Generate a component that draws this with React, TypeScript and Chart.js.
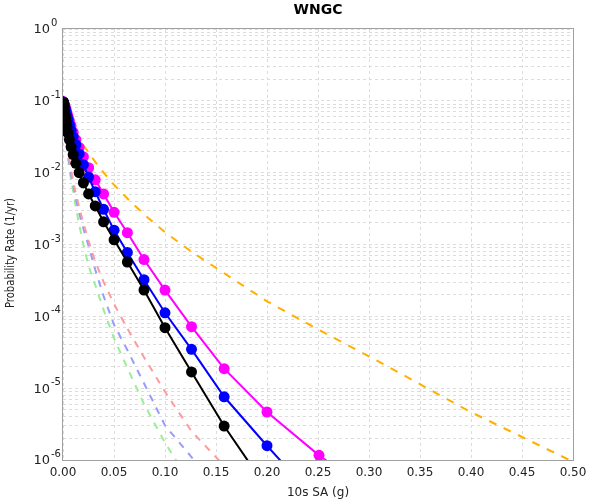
import React, { useEffect, useRef } from 'react';
import { Chart, registerables } from 'chart.js';
Chart.register(...registerables);

const chartTitle = 'WNGC';
const xTitle = '10s SA (g)';
const yTitle = 'Probability Rate (1/yr)';

const xValues = [
  0.0001, 0.000126, 0.000158, 0.0002, 0.000251, 0.000316, 0.000398, 0.000501, 0.000631, 0.000794,
  0.001, 0.00126, 0.00158, 0.002, 0.00251, 0.00316, 0.00398, 0.00501, 0.00631, 0.00794,
  0.01, 0.0126, 0.0158, 0.02, 0.0251, 0.0316, 0.0398, 0.0501, 0.0631, 0.0794,
  0.1, 0.126, 0.158, 0.2, 0.251, 0.316, 0.398, 0.501,
];

const blackCurve = [
  0.0955, 0.0951, 0.0946, 0.094, 0.0931, 0.092, 0.0908, 0.0891, 0.0871, 0.0841,
  0.0804, 0.0759, 0.0708, 0.0646, 0.0575, 0.0501, 0.0427, 0.0355, 0.0288, 0.0229,
  0.0178, 0.0135, 0.01, 0.00724, 0.00505, 0.00344, 0.00207, 0.00116, 0.000569, 0.000232,
  0.0000695, 0.0000168, 0.00000297, 4.0e-7,
];

const blueCurve = [
  0.0966, 0.0962, 0.0957, 0.0953, 0.0946, 0.094, 0.0931, 0.092, 0.0908, 0.0897,
  0.0887, 0.0861, 0.0832, 0.0794, 0.0741, 0.0684, 0.0617, 0.055, 0.0468, 0.0389,
  0.0316, 0.0245, 0.0182, 0.0129, 0.00861, 0.00543, 0.00309, 0.00158, 0.000776, 0.000324,
  0.000112, 0.0000347, 0.00000759, 0.00000158, 2.5e-7,
];

const magentaCurve = [
  0.0973, 0.0971, 0.0968, 0.0964, 0.0959, 0.0955, 0.0948, 0.094, 0.0929, 0.0916,
  0.0902, 0.0885, 0.0861, 0.0832, 0.0794, 0.0741, 0.0676, 0.0603, 0.0525, 0.0447,
  0.0363, 0.0288, 0.0224, 0.0166, 0.01175, 0.00794, 0.00505, 0.00281, 0.00146, 0.000617,
  0.000232, 0.0000718, 0.0000187, 0.00000466, 0.00000116, 2.5e-7,
];

const orangeCurve = [
  0.0977, 0.0973, 0.0968, 0.0962, 0.0955, 0.0946, 0.0933, 0.0918, 0.0902, 0.0881,
  0.0861, 0.0832, 0.0804, 0.0767, 0.0724, 0.0676, 0.0617, 0.0562, 0.0501, 0.0447,
  0.0398, 0.0347, 0.0295, 0.024, 0.0191, 0.0141, 0.01, 0.00676, 0.00437, 0.00263,
  0.00148, 0.000794, 0.000398, 0.000162, 0.0000646, 0.0000209, 0.00000479, 9.3e-7,
];

const salmonCurve = [
  0.0955, 0.0948, 0.094, 0.0929, 0.0914, 0.0895, 0.0871, 0.0838, 0.0798, 0.0753,
  0.07, 0.0638, 0.0569, 0.049, 0.0407, 0.0331, 0.0263, 0.02, 0.0148, 0.0107,
  0.00759, 0.00513, 0.00331, 0.002, 0.00112, 0.000575, 0.000302, 0.000148, 0.0000676, 0.0000269,
  0.00000891, 0.00000251, 8.3e-7,
];

const lightBlueCurve = [
  0.0955, 0.0946, 0.0935, 0.0923, 0.0906, 0.0885, 0.0859, 0.0822, 0.078, 0.0733,
  0.0676, 0.061, 0.0537, 0.0457, 0.038, 0.0309, 0.024, 0.0178, 0.0129, 0.00933,
  0.00661, 0.00437, 0.00275, 0.00166, 0.000955, 0.000447, 0.000191, 0.0000759, 0.0000339, 0.0000117,
  0.00000302, 0.0000011, 3.2e-7,
];

const greenCurve = [
  0.0955, 0.0944, 0.0933, 0.0918, 0.0902, 0.0881, 0.0851, 0.0813, 0.0767, 0.0716,
  0.0661, 0.0589, 0.0513, 0.0437, 0.0363, 0.0288, 0.0219, 0.0158, 0.0112, 0.00794,
  0.0055, 0.00331, 0.00191, 0.001, 0.000501, 0.000275, 0.000123, 0.000049, 0.0000191, 0.00000603,
  0.00000174, 4.5e-7,
];

const xMin = 0;
const xMax = 0.5;
const xStep = 0.05;
const yExponents = [0, -1, -2, -3, -4, -5, -6];
const yMinorMultipliers = [2, 3, 4, 5, 6, 7, 8, 9];

const toPoints = (ys: number[]) => ys.map((y, i) => ({ x: xValues[i], y }));

const textPlugin = {
  id: 'customText',
  beforeDatasetsDraw(chart: any) {
    const { ctx, chartArea: a } = chart;
    ctx.save();
    ctx.strokeStyle = '#a0a0a0';
    ctx.lineWidth = 1;
    ctx.setLineDash([]);
    ctx.strokeRect(a.left - 0.5, a.top - 0.5, a.right - a.left + 1, a.bottom - a.top + 1);
    ctx.restore();
  },
  afterDraw(chart: any) {
    const { ctx, chartArea: a, scales } = chart;
    const ys = scales.y;
    ctx.save();
    ctx.fillStyle = '#222';
    yExponents.forEach((e) => {
      const py = ys.getPixelForValue(Math.pow(10, e));
      ctx.font = '13px "DejaVu Sans"';
      ctx.textAlign = 'right';
      ctx.textBaseline = 'middle';
      ctx.fillText('10', a.left - 13, py + 1);
      ctx.font = '10px "DejaVu Sans"';
      ctx.textAlign = 'left';
      ctx.textBaseline = 'alphabetic';
      ctx.fillText(String(e), a.left - 12, py - 3);
    });
    ctx.fillStyle = '#000';
    ctx.font = 'bold 14px "DejaVu Sans"';
    ctx.textAlign = 'center';
    ctx.textBaseline = 'middle';
    ctx.fillText(chartTitle, (a.left + a.right) / 2, 10);

    ctx.fillStyle = '#222';
    ctx.translate(11, 253);
    ctx.rotate(-Math.PI / 2);
    ctx.font = '12px "DejaVu Sans Condensed", "DejaVu Sans"';
    const w = ctx.measureText(yTitle).width;
    ctx.scale(110 / w, 1);
    ctx.textAlign = 'center';
    ctx.textBaseline = 'middle';
    ctx.fillText(yTitle, 0, 0);
    ctx.restore();
  },
};

export default function App() {
  const canvasRef = useRef<HTMLCanvasElement | null>(null);

  useEffect(() => {
    if (!canvasRef.current) return;
    const solid = (label: string, color: string, data: number[]) => ({
      label,
      data: toPoints(data),
      borderColor: color,
      backgroundColor: color,
      borderWidth: 2,
      pointRadius: 5.5,
      pointBorderWidth: 0,
      pointBackgroundColor: color,
      clip: 0,
    });
    const dashed = (label: string, color: string, data: number[], dash: number[]) => ({
      label,
      data: toPoints(data),
      borderColor: color,
      backgroundColor: color,
      borderWidth: 2,
      borderDash: dash,
      pointRadius: 0,
      clip: 0,
    });
    const chart = new Chart(canvasRef.current, {
      type: 'line',
      data: {
        datasets: [
          solid('black', '#000000', blackCurve),
          solid('blue', '#0000ff', blueCurve),
          solid('magenta', '#ff00ff', magentaCurve),
          dashed('orange', '#ffb000', orangeCurve, [8, 8]),
          dashed('salmon', '#ff9a9a', salmonCurve, [7, 7]),
          dashed('lightblue', '#9a9aff', lightBlueCurve, [7, 7]),
          dashed('green', '#99ee99', greenCurve, [7, 7]),
        ] as any,
      },
      options: {
        animation: false,
        responsive: false,
        maintainAspectRatio: false,
        parsing: false as any,
        normalized: true,
        layout: { padding: { left: 0, right: 27, top: 29, bottom: 0 } },
        plugins: { legend: { display: false }, tooltip: { enabled: false }, title: { display: false } },
        elements: { line: { tension: 0 } },
        scales: {
          x: {
            type: 'linear',
            min: xMin,
            max: xMax,
            afterFit: (s: any) => { s.height = 40; },
            ticks: {
              stepSize: xStep,
              padding: 6,
              color: '#222',
              font: { family: '"DejaVu Sans"', size: 12 },
              callback: (v: any) => Number(v).toFixed(2),
              maxRotation: 0,
              autoSkip: false,
            },
            grid: { color: '#dcdcdc', drawTicks: false, lineWidth: 1 },
            border: { display: false, dash: [3, 3] },
            title: {
              display: true,
              text: xTitle,
              color: '#222',
              font: { family: '"DejaVu Sans"', size: 12 },
              padding: { top: 0, bottom: 0 },
            },
          },
          y: {
            type: 'logarithmic',
            min: 1e-6,
            max: 1,
            afterFit: (s: any) => { s.width = 63; },
            afterBuildTicks: (s: any) => {
              const ticks: any[] = [];
              yExponents.slice().reverse().forEach((e) => {
                const base = Math.pow(10, e);
                ticks.push({ value: base });
                if (e < 0) yMinorMultipliers.forEach((m) => ticks.push({ value: m * base }));
              });
              s.ticks = ticks;
            },
            ticks: { display: false },
            grid: { color: '#dcdcdc', drawTicks: false, lineWidth: 1 },
            border: { display: false, dash: [3, 3] },
          },
        },
      },
      plugins: [textPlugin],
    });
    return () => chart.destroy();
  }, []);

  return (
    <div style={{ position: 'fixed', left: 0, top: 0, width: 600, height: 500, background: '#fff' }}>
      <canvas ref={canvasRef} width={600} height={500} style={{ width: 600, height: 500 }} />
    </div>
  );
}
